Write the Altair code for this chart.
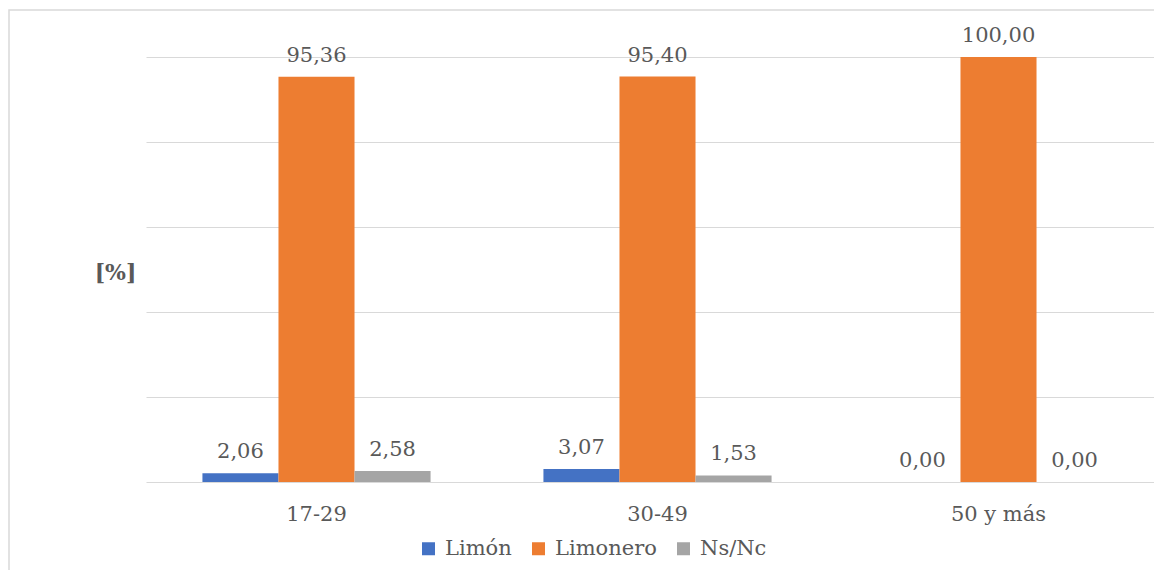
import altair as alt
import pandas as pd

categories = ["17-29", "30-49", "50 y más"]
series = ["Limón", "Limonero", "Ns/Nc"]
limon = [2.06, 3.07, 0.00]
limonero = [95.36, 95.40, 100.00]
nsnc = [2.58, 1.53, 0.00]
colors = ["#4472C4", "#ED7D31", "#A5A5A5"]
y_ticks = [0, 20, 40, 60, 80, 100]

rows = []
for i, c in enumerate(categories):
    for s, vals in zip(series, [limon, limonero, nsnc]):
        rows.append({"cat": c, "serie": s, "val": vals[i]})
df = pd.DataFrame(rows)

FONT = "DejaVu Serif"
TXT = "#595959"
FS = 21
W, H = 1008, 425

x = alt.X("cat:N", sort=categories, title=None,
          scale=alt.Scale(range=[0, 1023], paddingInner=0.331, paddingOuter=0.1655),
          axis=alt.Axis(labelAngle=0, domain=False, ticks=False, labelFontSize=FS,
                        labelColor=TXT, labelFont=FONT, labelPadding=21))
y = alt.Y("val:Q", scale=alt.Scale(domain=[0, 100], nice=False, zero=True),
          axis=alt.Axis(values=y_ticks, labels=False, ticks=False, domain=False,
                        grid=True, gridColor="#d9d9d9", gridWidth=1,
                        title="[%]", titleAngle=0, titleFontSize=22, titleFontWeight="bold",
                        titleFont=FONT, titleColor=TXT, titleX=-31, titleY=215,
                        titleAlign="center", titleBaseline="middle"))
xo = alt.XOffset("serie:N", sort=series, scale=alt.Scale(paddingInner=0, paddingOuter=0))

base = alt.Chart(df)

bars = base.mark_bar().encode(
    x=x, y=y, xOffset=xo,
    color=alt.Color("serie:N", sort=series,
                    scale=alt.Scale(domain=series, range=colors),
                    legend=alt.Legend(orient="none", legendX=272, legendY=481,
                                      direction="horizontal", title=None,
                                      symbolType="square", symbolSize=169,
                                      symbolStrokeWidth=0, labelFontSize=FS,
                                      labelFont=FONT, labelColor=TXT,
                                      labelOffset=6, columnPadding=16)),
)

labels = base.transform_calculate(
    lbl="replace(format(datum.val, '.2f'), '.', ',')"
).mark_text(dy=-15, baseline="alphabetic", fontSize=FS, font=FONT, color=TXT).encode(
    x=x, y=y, xOffset=xo, text="lbl:N"
)

border = alt.Chart(pd.DataFrame({"a": [0]})).mark_rect(
    fillOpacity=0, stroke="#d9d9d9", strokeWidth=1.5
).encode(x=alt.value(-137), x2=alt.value(1300), y=alt.value(-47), y2=alt.value(800))

chart = alt.layer(border, bars, labels).properties(
    width=W, height=H,
    autosize=alt.AutoSizeParams(type="none"),
    padding={"left": 138, "top": 49, "right": 0, "bottom": 88},
).configure_view(strokeWidth=0)

chart.save("out.html", embed_options={"renderer": "svg", "actions": False})
